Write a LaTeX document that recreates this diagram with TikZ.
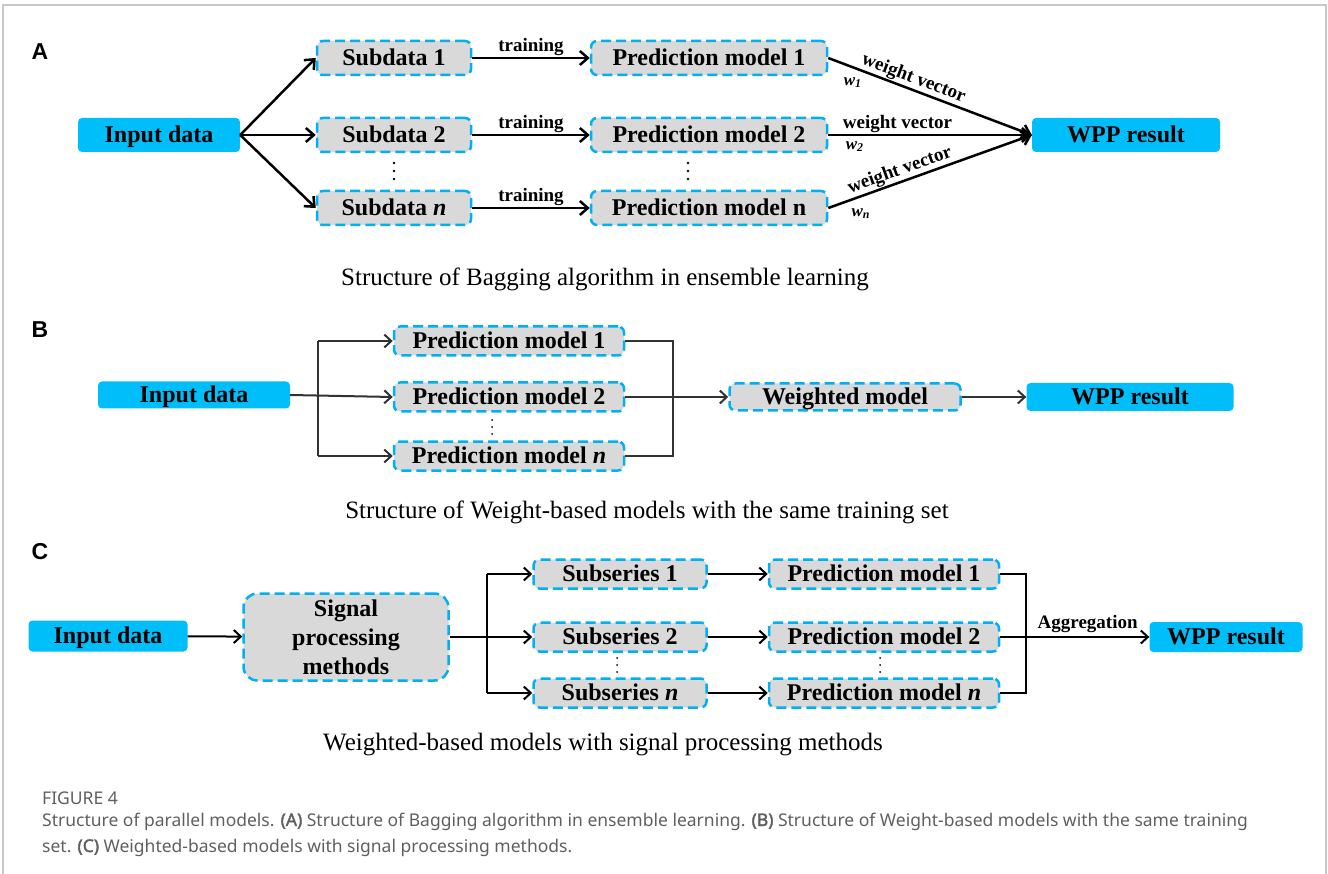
\documentclass[tikz,border=0pt]{standalone}
\usepackage{fontspec}
\setmainfont{Liberation Serif}
\newfontfamily\capfont{Noto Sans}[AutoFakeBold=2]
\newfontfamily\panelfont{Liberation Sans}
\usetikzlibrary{arrows.meta}

\definecolor{boxcyan}{RGB}{0,190,250}
\definecolor{dashcyan}{RGB}{0,176,240}
\definecolor{boxgray}{RGB}{217,217,217}
\definecolor{framegray}{RGB}{200,200,200}
\definecolor{capgray}{RGB}{95,95,95}
\definecolor{lineB}{RGB}{50,50,50}

\newcommand{\boxfont}{\fontsize{24}{29}\selectfont\bfseries}
\newcommand{\lblfont}{\fontsize{19}{20}\selectfont\bfseries}
\newcommand{\wfont}{\fontsize{17}{18}\selectfont\bfseries\itshape}
\newcommand{\titfont}{\fontsize{25}{27}\selectfont}
\newcommand{\panfont}{\panelfont\fontsize{23}{24}\selectfont\bfseries}
\newcommand{\capsize}{\capfont\fontsize{17.5}{19}\selectfont}

\tikzset{
  inbox/.style={fill=boxcyan, rounded corners=4pt, inner sep=0pt, font=\boxfont,
    text height=16pt, text depth=1pt},
  modbox/.style={fill=boxgray, draw=dashcyan, line width=2.5pt, dash pattern=on 10pt off 5pt,
    rounded corners=6pt, inner sep=0pt, font=\boxfont},
  onerow/.style={text height=16pt, text depth=1pt},
  conn/.style={line width=2.5pt, -{Straight Barb[length=8pt,width=14pt]}},
  connB/.style={lineB, line width=2pt, -{Straight Barb[length=7pt,width=13pt]}},
  connC/.style={line width=2pt, -{Straight Barb[length=7pt,width=13pt]}},
  wire/.style={lineB, line width=2pt},
  lbl/.style={font=\lblfont, inner sep=1pt},
  wlbl/.style={font=\wfont, inner sep=2pt},
}

\begin{document}
\begin{tikzpicture}[x=1pt, y=-1pt]
  \useasboundingbox (0,0) rectangle (1328,874);

  % frame
  \draw [framegray, line width=1.5pt] (3,874) -- (3,5) -- (1326,5) -- (1326,874);

  % ---------- A ----------
  \node [font=\panfont, anchor=base] (labA) at (40,60) {A};
  \node [inbox, minimum width=162pt, minimum height=34pt] (inA) at (159,135) {Input data};

  \node [modbox, onerow, minimum width=154pt, minimum height=34pt] (subA1) at (394,58) {Subdata 1};
  \node [modbox, onerow, minimum width=154pt, minimum height=34pt] (subA2) at (394,135) {Subdata 2};
  \node [modbox, onerow, minimum width=154pt, minimum height=34pt] (subAn) at (394,208) {Subdata \textit{n}};

  \node [modbox, onerow, minimum width=236pt, minimum height=34pt] (predA1) at (709,58) {Prediction model 1};
  \node [modbox, onerow, minimum width=236pt, minimum height=34pt] (predA2) at (709,135) {Prediction model 2};
  \node [modbox, onerow, minimum width=236pt, minimum height=34pt] (predAn) at (709,208) {Prediction model n};

  \node [inbox, minimum width=188pt, minimum height=34pt] (wppA) at (1126,135) {WPP result};

  % vertical dots
  \coordinate (dotsA1) at (394,171);
  \coordinate (dotsA2) at (688,171);
  \foreach \c in {dotsA1,dotsA2}
    \foreach \d in {-8,0,8}
      \fill (\c) ++(0,\d) circle (1.4pt);

  \draw [conn] (inA.east) -- (subA1.west);
  \draw [conn] (inA.east) -- (subA2.west);
  \draw [conn] (inA.east) -- (subAn.west);

  \draw [conn] (subA1) -- node [lbl, above] {training} (predA1);
  \draw [conn] (subA2) -- node [lbl, above] {training} (predA2);
  \draw [conn] (subAn) -- node [lbl, above] {training} (predAn);

  \draw [conn] (predA1.east) -- node [lbl, above, sloped, pos=0.4] {weight vector}
    node [wlbl, below=7pt, pos=0.12] {w\textsubscript{1}} (wppA.west);
  \draw [conn] (predA2.east) -- node [lbl, above, pos=0.34] {weight vector}
    node [wlbl, below=3pt, pos=0.13] {w\textsubscript{2}} (wppA.west);
  \draw [conn] (predAn.east) -- node [lbl, above, sloped, pos=0.37] {weight vector}
    node [wlbl, below=9pt, pos=0.16] {w\textsubscript{n}} (wppA.west);

  \node [font=\titfont] (titA) at (605,279) {Structure of Bagging algorithm in ensemble learning};

  % ---------- B ----------
  \node [font=\panfont, anchor=base] (labB) at (40,338) {B};
  \node [inbox, minimum width=192pt, minimum height=27pt] (inB) at (194,395) {Input data};

  \node [modbox, onerow, minimum width=230pt, minimum height=29pt] (predB1) at (509,341) {Prediction model 1};
  \node [modbox, onerow, minimum width=230pt, minimum height=29pt] (predB2) at (509,397) {Prediction model 2};
  \node [modbox, onerow, minimum width=230pt, minimum height=29pt] (predBn) at (509,456) {Prediction model \textit{n}};

  \node [modbox, onerow, minimum width=231pt, minimum height=27pt] (wmB) at (845,397) {Weighted model};
  \node [inbox, minimum width=207pt, minimum height=28pt] (wppB) at (1130,397) {WPP result};

  \coordinate (dotsB) at (492,427);
  \foreach \d in {-7,0,7}
    \fill (dotsB) ++(0,\d) circle (1pt);

  \coordinate (splitB) at (318,395);
  \coordinate (joinB) at (673,397);

  \draw [wire] (splitB |- predB1.west) -- (splitB |- predBn.west);
  \draw [connB] (inB.east) -- (predB2.west);
  \draw [connB] (splitB |- predB1.west) -- (predB1.west);
  \draw [connB] (splitB |- predBn.west) -- (predBn.west);

  \draw [wire] (predB1.east) -| (joinB) |- (predBn.east);
  \draw [connB] (predB2.east) -- (wmB.west);
  \draw [connB] (wmB) -- (wppB);

  \node [font=\titfont] (titB) at (647,512) {Structure of Weight-based models with the same training set};

  % ---------- C ----------
  \node [font=\panfont, anchor=base] (labC) at (40,559) {C};
  \node [inbox, minimum width=159pt, minimum height=31pt] (inC) at (108,636) {Input data};
  \node [modbox, minimum width=205pt, minimum height=87pt, rounded corners=14pt, align=center]
    (sigC) at (346,637) {Signal\\processing\\methods};

  \node [modbox, onerow, minimum width=173pt, minimum height=29pt] (subC1) at (620,574) {Subseries 1};
  \node [modbox, onerow, minimum width=173pt, minimum height=29pt] (subC2) at (620,637) {Subseries 2};
  \node [modbox, onerow, minimum width=173pt, minimum height=29pt] (subCn) at (620,693) {Subseries \textit{n}};

  \node [modbox, onerow, minimum width=230pt, minimum height=29pt] (predC1) at (884,574) {Prediction model 1};
  \node [modbox, onerow, minimum width=230pt, minimum height=29pt] (predC2) at (884,637) {Prediction model 2};
  \node [modbox, onerow, minimum width=230pt, minimum height=29pt] (predCn) at (884,693) {Prediction model \textit{n}};

  \node [inbox, minimum width=153pt, minimum height=30pt] (wppC) at (1226,637) {WPP result};

  \coordinate (dotsC1) at (617,665);
  \coordinate (dotsC2) at (880,665);
  \foreach \c in {dotsC1,dotsC2}
    \foreach \d in {-7,0,7}
      \fill (\c) ++(0,\d) circle (1pt);

  \coordinate (splitC) at (487,637);
  \coordinate (joinC) at (1026,637);

  \draw [connC] (inC) -- (sigC);
  \draw [wire, black] (splitC |- subC1.west) -- (splitC |- subCn.west);
  \draw [connC] (sigC.east) -- (subC2.west);
  \draw [connC] (splitC |- subC1.west) -- (subC1.west);
  \draw [connC] (splitC |- subCn.west) -- (subCn.west);

  \draw [connC] (subC1) -- (predC1);
  \draw [connC] (subC2) -- (predC2);
  \draw [connC] (subCn) -- (predCn);

  \draw [wire, black] (predC1.east) -| (joinC) |- (predCn.east);
  \draw [wire, black] (predC2.east) -- (joinC);
  \draw [connC] (joinC) -- node [lbl, above, inner sep=3pt] {Aggregation} (wppC.west);

  \node [font=\titfont] (titC) at (603,745) {Weighted-based models with signal processing methods};

  % ---------- caption ----------
  \node [font=\capsize, text=capgray, anchor=base west, inner sep=0pt] (figno) at (42,804) {FIGURE 4};
  \node [font=\capsize, text=capgray, anchor=base west, inner sep=0pt] (figcap1) at (42,826)
    {Structure of parallel models. \textbf{(A)} Structure of Bagging algorithm in ensemble learning. \textbf{(B)} Structure of Weight-based models with the same training};
  \node [font=\capsize, text=capgray, anchor=base west, inner sep=0pt] (figcap2) at (42,852)
    {set. \textbf{(C)} Weighted-based models with signal processing methods.};

\end{tikzpicture}
\end{document}
